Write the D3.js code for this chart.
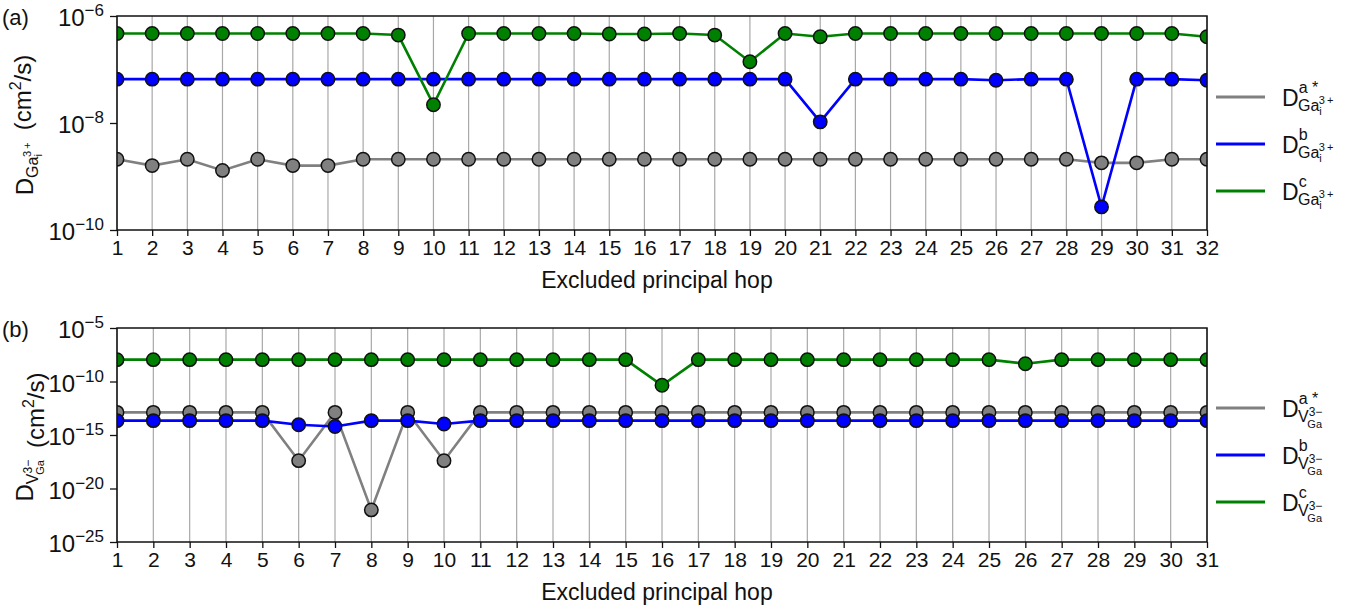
<!DOCTYPE html>
<html>
<head>
<meta charset="utf-8">
<script src="https://cdn.jsdelivr.net/npm/d3@7"></script>
<style>
  body { margin: 0; background: #fff; }
  text { font-family: "Liberation Sans", Arial, sans-serif; fill: #111; }
</style>
</head>
<body>
<div id="chart-area"></div>
<script>
// panel (a): 32 excluded hops
var hopsA = d3.range(1, 33);
var grayA = [2.1e-9, 1.6e-9, 2.1e-9, 1.3e-9, 2.1e-9, 1.6e-9, 1.6e-9, 2.1e-9, 2.1e-9, 2.1e-9,
             2.1e-9, 2.1e-9, 2.1e-9, 2.1e-9, 2.1e-9, 2.1e-9, 2.1e-9, 2.1e-9, 2.1e-9, 2.1e-9,
             2.1e-9, 2.1e-9, 2.1e-9, 2.1e-9, 2.1e-9, 2.1e-9, 2.1e-9, 2.1e-9, 1.8e-9, 1.8e-9,
             2.1e-9, 2.1e-9];
var blueA = [6.6e-8, 6.6e-8, 6.6e-8, 6.6e-8, 6.6e-8, 6.6e-8, 6.6e-8, 6.6e-8, 6.6e-8, 6.6e-8,
             6.6e-8, 6.6e-8, 6.6e-8, 6.6e-8, 6.6e-8, 6.6e-8, 6.6e-8, 6.6e-8, 6.6e-8, 6.6e-8,
             1.05e-8, 6.6e-8, 6.6e-8, 6.6e-8, 6.6e-8, 6.3e-8, 6.6e-8, 6.6e-8, 2.7e-10, 6.6e-8,
             6.6e-8, 6.3e-8];
var greenA = [4.7e-7, 4.7e-7, 4.7e-7, 4.7e-7, 4.7e-7, 4.7e-7, 4.7e-7, 4.7e-7, 4.4e-7, 2.2e-8,
              4.7e-7, 4.7e-7, 4.7e-7, 4.7e-7, 4.6e-7, 4.6e-7, 4.7e-7, 4.4e-7, 1.4e-7, 4.7e-7,
              4.1e-7, 4.7e-7, 4.7e-7, 4.7e-7, 4.7e-7, 4.7e-7, 4.7e-7, 4.7e-7, 4.7e-7, 4.7e-7,
              4.7e-7, 4.1e-7];
var yTicksA = [-10, -8, -6];

// panel (b): 31 excluded hops
var hopsB = d3.range(1, 32);
var grayB = [1.3e-13, 1.3e-13, 1.3e-13, 1.3e-13, 1.3e-13, 4e-18, 1.3e-13, 1e-22, 1.3e-13, 4e-18,
             1.3e-13, 1.3e-13, 1.3e-13, 1.3e-13, 1.3e-13, 1.3e-13, 1.3e-13, 1.3e-13, 1.3e-13, 1.3e-13,
             1.3e-13, 1.3e-13, 1.3e-13, 1.3e-13, 1.3e-13, 1.3e-13, 1.3e-13, 1.3e-13, 1.3e-13, 1.3e-13,
             1.3e-13];
var blueB = [2.2e-14, 2.2e-14, 2.2e-14, 2.2e-14, 2.2e-14, 9e-15, 6.3e-15, 2.2e-14, 2.2e-14, 1.07e-14,
             2.2e-14, 2.2e-14, 2.2e-14, 2.2e-14, 2.2e-14, 2.2e-14, 2.2e-14, 2.2e-14, 2.2e-14, 2.2e-14,
             2.2e-14, 2.2e-14, 2.2e-14, 2.2e-14, 2.2e-14, 2.2e-14, 2.2e-14, 2.2e-14, 2.2e-14, 2.2e-14,
             2.2e-14];
var greenB = [1.1e-8, 1.1e-8, 1.1e-8, 1.1e-8, 1.1e-8, 1.1e-8, 1.1e-8, 1.1e-8, 1.1e-8, 1.1e-8,
              1.1e-8, 1.1e-8, 1.1e-8, 1.1e-8, 1.1e-8, 4.4e-11, 1.1e-8, 1.1e-8, 1.1e-8, 1.1e-8,
              1.1e-8, 1.1e-8, 1.1e-8, 1.1e-8, 1.1e-8, 4.6e-9, 1.1e-8, 1.1e-8, 1.1e-8, 1.1e-8,
              1.1e-8];
var yTicksB = [-25, -20, -15, -10, -5];

var colors = ["#808080", "#0000ff", "#008000"];
var legendSups = ["a *", "b", "c"];

var svg = d3.select("#chart-area")
    .append("svg")
        .attr("width", 1352)
        .attr("height", 608);

function drawPanel(opt) {
    var left = 117, right = 1207;
    var top = opt.top, bottom = opt.bottom;

    var x = d3.scaleLinear()
        .domain([1, opt.hops.length])
        .range([left, right]);
    var y = d3.scaleLog()
        .domain(opt.domain)
        .range([bottom, top]);

    var g = svg.append("g");

    var clipId = "clip" + opt.name;
    g.append("clipPath").attr("id", clipId)
        .append("rect")
        .attr("x", left).attr("y", top)
        .attr("width", right - left).attr("height", bottom - top);

    // vertical grid
    g.append("g").selectAll("line").data(opt.hops).enter()
        .append("line")
            .attr("x1", function(d){ return x(d); })
            .attr("x2", function(d){ return x(d); })
            .attr("y1", top).attr("y2", bottom)
            .attr("stroke", "#a8a8a8")
            .attr("stroke-width", 1.2);

    // x axis
    var xAxisCall = d3.axisBottom(x)
        .tickValues(opt.hops)
        .tickSize(6)
        .tickPadding(4)
        .tickFormat(d3.format("d"));
    var xa = g.append("g")
        .attr("transform", "translate(0," + bottom + ")")
        .call(xAxisCall);
    xa.select(".domain").remove();
    xa.selectAll("line").attr("stroke", "#111").attr("stroke-width", 1.3);
    xa.selectAll("text")
        .attr("font-size", "21px")
        .attr("font-family", "Liberation Sans, Arial, sans-serif")
        .attr("fill", "#111");

    // y axis ticks
    var yAxisCall = d3.axisLeft(y)
        .tickValues(opt.yTicks.map(function(e){ return Math.pow(10, e); }))
        .tickSize(7)
        .tickFormat("");
    var ya = g.append("g")
        .attr("transform", "translate(" + left + ",0)")
        .call(yAxisCall);
    ya.select(".domain").remove();
    ya.selectAll("line").attr("stroke", "#111").attr("stroke-width", 1.3);

    // y tick labels 10^n
    opt.yTicks.forEach(function(e){
        var t = g.append("text")
            .attr("x", left - 13)
            .attr("y", y(Math.pow(10, e)) + 10)
            .attr("text-anchor", "end")
            .attr("font-size", "24px");
        t.append("tspan").text("10");
        t.append("tspan").attr("dy", -10).attr("font-size", "17px").text("\u2212" + Math.abs(e));
    });

    // series
    var series = [opt.gray, opt.blue, opt.green];
    var line = d3.line()
        .x(function(d, i){ return x(opt.hops[i]); })
        .y(function(d){ return y(d); });

    var plot = g.append("g").attr("clip-path", "url(#" + clipId + ")");
    series.forEach(function(vals, k){
        var sg = plot.append("g");
        sg.append("path")
            .datum(vals)
            .attr("d", line)
            .attr("fill", "none")
            .attr("stroke", colors[k])
            .attr("stroke-width", 2.6);
        sg.selectAll("circle").data(vals).enter()
            .append("circle")
                .attr("cx", function(d, i){ return x(opt.hops[i]); })
                .attr("cy", function(d){ return y(d); })
                .attr("r", 6.7)
                .attr("fill", colors[k])
                .attr("stroke", "#111")
                .attr("stroke-width", 1.5);
    });

    // frame
    g.append("rect")
        .attr("x", left).attr("y", top)
        .attr("width", right - left).attr("height", bottom - top)
        .attr("fill", "none")
        .attr("stroke", "#111")
        .attr("stroke-width", 1.5);

    // x label
    g.append("text")
        .attr("x", (left + right) / 2 - 5)
        .attr("y", bottom + 58)
        .attr("text-anchor", "middle")
        .attr("font-size", "23px")
        .text("Excluded principal hop");

    // panel tag
    g.append("text")
        .attr("x", 2)
        .attr("y", top + 9)
        .attr("font-size", "22px")
        .text(opt.tag);

    // y label (rotated)
    var yl = g.append("text")
        .attr("transform", "translate(33," + ((top + bottom) / 2 + 2) + ") rotate(-90)")
        .attr("text-anchor", "middle")
        .attr("font-size", "24px");
    yl.append("tspan").text("D");
    opt.subLabel(yl);
    yl.append("tspan").text("\u2002(cm");
    yl.append("tspan").attr("dy", -10).attr("font-size", "16px").text("2");
    yl.append("tspan").attr("dy", 10).text("/s)");

    // legend
    colors.forEach(function(c, k){
        var ly = opt.legendY + k * 47;
        g.append("line")
            .attr("x1", 1216).attr("x2", 1265)
            .attr("y1", ly).attr("y2", ly)
            .attr("stroke", c)
            .attr("stroke-width", 3);
        var t = g.append("text")
            .attr("x", 1282)
            .attr("y", ly + 9)
            .attr("font-size", "23px");
        t.append("tspan").text("D");
        t.append("tspan").attr("dy", -13).attr("font-size", "16px").text(legendSups[k]);
        var s = g.append("text")
            .attr("x", 1298)
            .attr("y", ly + 9)
            .attr("font-size", "22px");
        opt.subLabel(s);
    });
}

// subscript builders; each leaves the baseline where it started
function subGa(t) {
    t.append("tspan").attr("dy", 5).attr("font-size", "16px").text("Ga");
    t.append("tspan").attr("dy", 4).attr("font-size", "11px").text("i");
    t.append("tspan").attr("dx", -3).attr("dy", -11).attr("font-size", "11px").text("3\u2009+");
    t.append("tspan").attr("dy", 2).attr("font-size", "16px").text("");
}
function subV(t) {
    t.append("tspan").attr("dy", 5).attr("font-size", "16px").text("V");
    t.append("tspan").attr("dy", -6).attr("font-size", "12px").text("3\u2212");
    t.append("tspan").attr("dx", -15).attr("dy", 12).attr("font-size", "11px").text("Ga");
    t.append("tspan").attr("dy", -11).attr("font-size", "16px").text("");
}

drawPanel({
    name: "a", tag: "(a)", top: 16, bottom: 230,
    hops: hopsA, gray: grayA, blue: blueA, green: greenA,
    domain: [1e-10, 1e-6], yTicks: yTicksA,
    legendY: 97, subLabel: subGa
});
drawPanel({
    name: "b", tag: "(b)", top: 328, bottom: 542,
    hops: hopsB, gray: grayB, blue: blueB, green: greenB,
    domain: [1e-25, 1e-5], yTicks: yTicksB,
    legendY: 408, subLabel: subV
});
</script>
</body>
</html>
